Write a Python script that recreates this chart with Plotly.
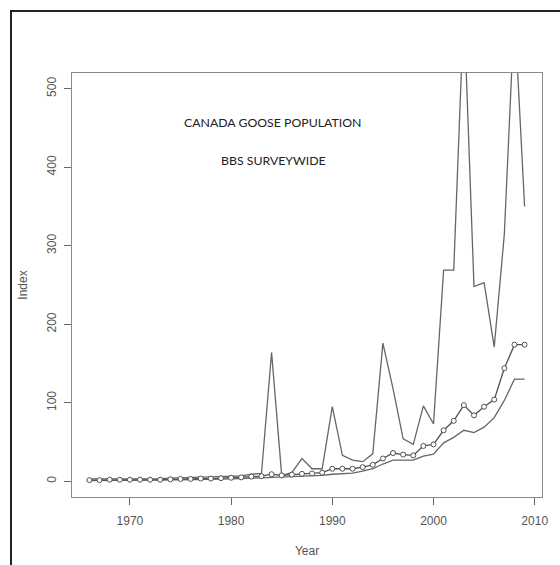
import plotly.graph_objects as go

years = list(range(1966, 2010))

index_vals = [1.5, 1.5, 2, 2, 2, 2, 2, 2, 2.5, 3,
              3, 3.5, 3.5, 4, 4.5, 5, 6, 6.5, 9, 7.5,
              8.5, 9.5, 10, 11, 16, 16, 16, 18, 21, 29,
              36, 34, 33, 45, 47, 65, 77, 97, 84, 95,
              104, 144, 174, 174]

lower_vals = [0.8, 0.8, 1.2, 1.3, 1.3, 1.3, 1.4, 1.4, 1.7, 2,
              2, 2.3, 2.4, 2.7, 3, 3.4, 4, 4.5, 5.5, 5.5,
              6, 6.5, 7, 7.5, 9, 10, 10.5, 13, 16, 22,
              27, 27, 27, 32, 34.5, 49, 56, 65, 62, 69,
              81, 103, 130, 130]

upper_vals = [3, 3, 3.5, 3.5, 3.5, 3.5, 3.5, 3.5, 4, 4.5,
              4.5, 5, 5.5, 6, 6.5, 7, 9, 10, 164, 7.5,
              11, 29, 16, 16, 95, 33, 27, 25, 35, 176,
              118, 54, 47, 96, 73, 269, 269, 605, 248, 253,
              171, 315, 600, 350]

x_ticks = [1970, 1980, 1990, 2000, 2010]
y_ticks = [0, 100, 200, 300, 400, 500]

title_lines = ["CANADA GOOSE POPULATION", "BBS SURVEYWIDE"]

LINE = "#666666"
MID = "#505050"

fig = go.Figure()
fig.add_trace(go.Scatter(x=years, y=upper_vals, mode="lines",
                         line=dict(color=LINE, width=1.3), showlegend=False))
fig.add_trace(go.Scatter(x=years, y=lower_vals, mode="lines",
                         line=dict(color=LINE, width=1.3), showlegend=False))
fig.add_trace(go.Scatter(x=years, y=index_vals, mode="lines+markers",
                         line=dict(color=MID, width=1.3),
                         marker=dict(symbol="circle", size=5, color="white",
                                     line=dict(color=MID, width=1)),
                         showlegend=False))

W, H = 560, 565
L, R, T, B = 72, 542, 73, 497
pw, ph = R - L, B - T

def px(xp):
    return (xp - L) / pw

def py(yp):
    return (B - yp) / ph

fig.update_layout(
    width=W, height=H,
    margin=dict(l=L, r=W - R, t=T, b=H - B, pad=0, autoexpand=False),
    paper_bgcolor="white", plot_bgcolor="white",
    font=dict(family="Liberation Sans, Arial, sans-serif", color="#555555", size=12),
    xaxis=dict(range=[1964.28, 2010.72], tickvals=x_ticks, ticks="outside",
               ticklen=7, tickcolor="#666666", tickwidth=1, ticklabelstandoff=5,
               showgrid=False, zeroline=False, showline=True, mirror=True,
               linecolor="#8a8a8a", linewidth=1.3, automargin=False,
               tickfont=dict(size=12, color="#555555"),
               title=dict(text="Year", standoff=20, font=dict(size=12, color="#555555"))),
    yaxis=dict(range=[-20, 520], tickvals=y_ticks, ticks="outside",
               ticklen=7, tickcolor="#666666", tickwidth=1, tickangle=-90,
               ticklabelstandoff=3, automargin=False,
               showgrid=False, zeroline=False, showline=True, mirror=True,
               linecolor="#8a8a8a", linewidth=1.3,
               tickfont=dict(size=12, color="#555555"),
               title=dict(text="Index", standoff=14, font=dict(size=12, color="#555555"))),
    shapes=[
        dict(type="line", xref="paper", yref="paper", x0=px(10), x1=px(562),
             y0=py(11), y1=py(11), line=dict(color="#222222", width=2)),
        dict(type="line", xref="paper", yref="paper", x0=px(11), x1=px(11),
             y0=py(10), y1=py(567), line=dict(color="#222222", width=2)),
    ],
    annotations=[
        dict(text=title_lines[0], xref="paper", yref="paper", x=px(272), y=py(122),
             showarrow=False, xanchor="center", yanchor="middle",
             font=dict(family="Lato, sans-serif", size=12.3, color="#222222")),
        dict(text=title_lines[1], xref="paper", yref="paper", x=px(273), y=py(160),
             showarrow=False, xanchor="center", yanchor="middle",
             font=dict(family="Lato, sans-serif", size=12.3, color="#222222")),
    ],
)

fig.write_html("out.html", config={"displayModeBar": False},
               post_script="document.body.style.margin='0';document.body.style.overflow='hidden';")
